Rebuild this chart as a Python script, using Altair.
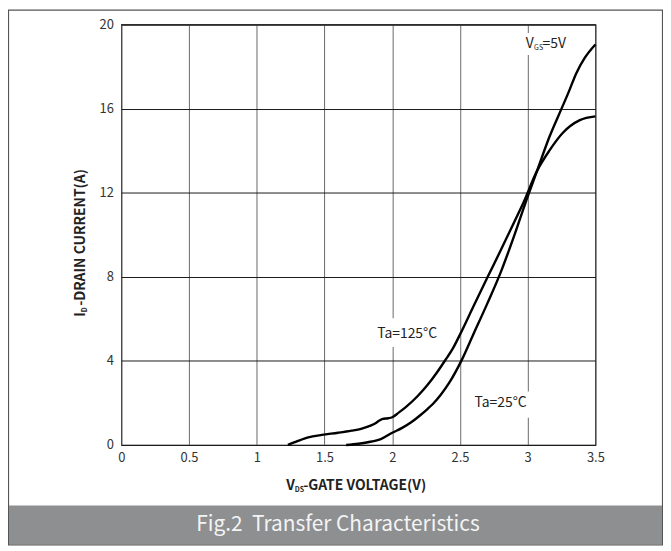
import altair as alt
import pandas as pd

# ---------------- data ----------------
v_125 = [1.23, 1.30, 1.38, 1.48, 1.60, 1.70, 1.77, 1.84, 1.88, 1.905, 1.93, 1.97, 2.00,
         2.05, 2.10, 2.19, 2.26, 2.33, 2.39, 2.45, 2.50, 2.60, 2.705, 2.80, 2.90, 2.97,
         3.07, 3.16, 3.26, 3.385, 3.50]
i_125 = [0.0, 0.18, 0.36, 0.48, 0.58, 0.68, 0.77, 0.92, 1.05, 1.16, 1.24, 1.27, 1.32,
         1.55, 1.80, 2.34, 2.85, 3.45, 4.02, 4.62, 5.25, 6.60, 8.00, 9.25, 10.60, 11.55,
         13.05, 14.00, 14.85, 15.45, 15.63]

v_25 = [1.66, 1.75, 1.82, 1.92, 2.00, 2.07, 2.14, 2.20, 2.26, 2.30, 2.36, 2.42, 2.51,
        2.60, 2.70, 2.80, 2.90, 2.98, 3.07, 3.16, 3.25, 3.30, 3.36, 3.42, 3.50]
i_25 = [0.0, 0.06, 0.13, 0.29, 0.58, 0.80, 1.08, 1.38, 1.71, 1.95, 2.40, 2.95, 4.00,
        5.28, 6.70, 8.20, 9.95, 11.45, 13.05, 14.65, 16.00, 16.75, 17.70, 18.40, 19.05]

x_ticks = [0, 0.5, 1, 1.5, 2, 2.5, 3, 3.5]
y_ticks = [0, 4, 8, 12, 16, 20]

# annotations (text and the white boxes behind them)
ann_text = ["Ta=125°C", "Ta=25°C"]
ann_v = [2.11, 2.80]
ann_i = [5.27, 2.00]

box_v1 = [1.86, 2.58, 2.96]
box_v2 = [2.36, 3.02, 3.31]
box_i1 = [4.66, 1.29, 18.55]
box_i2 = [6.03, 2.54, 19.60]

vgs_v = [2.985]
vgs_i = [19.05]

x_title_main = "-GATE VOLTAGE(V)"
y_title_main = "-DRAIN CURRENT(A)"
fig_title = "Fig.2\u00a0 Transfer Characteristics"

FONT = "Noto Sans CJK SC"
W, H = 477, 423

curves = pd.DataFrame({
    "V": v_125 + v_25,
    "I": i_125 + i_25,
    "T": ["125"] * len(v_125) + ["25"] * len(v_25),
})
ann = pd.DataFrame({"t": ann_text, "V": ann_v, "I": ann_i})
boxes = pd.DataFrame({"v1": box_v1, "v2": box_v2, "i1": box_i1, "i2": box_i2})
vgs = pd.DataFrame({"V": vgs_v, "I": vgs_i})

xs = alt.Scale(domain=[0, 3.5], nice=False, zero=False)
ys = alt.Scale(domain=[0, 20], nice=False)

x_axis = alt.Axis(values=x_ticks, format="~g", grid=True, gridColor="#6a6a6a",
                  gridWidth=1, domain=False, ticks=False, labelFont=FONT,
                  labelFontSize=13, labelColor="#333333", labelPadding=7,
                  labelFlush=False, title=None)
y_axis = alt.Axis(values=y_ticks, format="~g", grid=True, gridColor="#1a1a1a",
                  gridWidth=1, domain=False, ticks=False, labelFont=FONT,
                  labelFontSize=13, labelColor="#333333", labelPadding=8,
                  title=None)

# frame decorations (outer border and grey caption bar)
border = alt.Chart(pd.DataFrame({"a": [0]})).mark_rect(
    fill="transparent", stroke="#555555", strokeWidth=1.2
).encode(x=alt.value(-113.5), x2=alt.value(544.5), y=alt.value(-14.5), y2=alt.value(523.5))

bar = alt.Chart(pd.DataFrame({"a": [0]})).mark_rect(fill="#8d8f91").encode(
    x=alt.value(-113), x2=alt.value(544), y=alt.value(484), y2=alt.value(523)
)

caption = alt.Chart(pd.DataFrame({"t": [fig_title]})).mark_text(
    font=FONT, fontSize=21, color="#f4f4f4", align="center", baseline="middle"
).encode(text="t:N", x=alt.value(218), y=alt.value(504))

# axes carrier + boxes
box_layer = alt.Chart(boxes).mark_rect(fill="white").encode(
    x=alt.X("v1:Q", scale=xs, axis=x_axis),
    x2="v2:Q",
    y=alt.Y("i1:Q", scale=ys, axis=y_axis),
    y2="i2:Q",
)

lines = alt.Chart(curves).mark_line(
    color="black", strokeWidth=2.4, interpolate="monotone"
).encode(
    x=alt.X("V:Q", scale=xs),
    y=alt.Y("I:Q", scale=ys),
    detail="T:N",
)

ann_layer = alt.Chart(ann).mark_text(
    font=FONT, fontSize=14, color="#222222", align="center", baseline="middle"
).encode(x=alt.X("V:Q", scale=xs), y=alt.Y("I:Q", scale=ys), text="t:N")

vgs_v_txt = alt.Chart(vgs.assign(t="V")).mark_text(
    font=FONT, fontSize=14, color="#222222", align="left", baseline="middle"
).encode(x=alt.X("V:Q", scale=xs), y=alt.Y("I:Q", scale=ys), text="t:N")
vgs_sub = alt.Chart(vgs.assign(t="GS")).mark_text(
    font=FONT, fontSize=7, color="#222222", align="left", baseline="middle", dx=8.5, dy=4
).encode(x=alt.X("V:Q", scale=xs), y=alt.Y("I:Q", scale=ys), text="t:N")
vgs_rest = alt.Chart(vgs.assign(t="=5V")).mark_text(
    font=FONT, fontSize=14, color="#222222", align="left", baseline="middle", dx=17
).encode(x=alt.X("V:Q", scale=xs), y=alt.Y("I:Q", scale=ys), text="t:N")

# axis titles with subscripts
def txt(t, x, y, size, angle=0, weight="bold"):
    return alt.Chart(pd.DataFrame({"t": [t]})).mark_text(
        font=FONT, fontSize=size, fontWeight=weight, color="#222222",
        align="left", baseline="middle", angle=angle
    ).encode(text="t:N", x=alt.value(x), y=alt.value(y))

xt1 = txt("V", 166, 464, 14)
xt2 = txt("DS", 174.5, 468, 7)
xt3 = txt(x_title_main, 183, 464, 14)

yt1 = txt("I", -41, 294, 14, angle=270)
yt2 = txt("D", -37, 289.5, 7, angle=270)
yt3 = txt(y_title_main, -41, 283, 14, angle=270)

chart = alt.layer(
    border, bar, caption, box_layer, lines, ann_layer,
    vgs_v_txt, vgs_sub, vgs_rest, xt1, xt2, xt3, yt1, yt2, yt3
).properties(
    width=W, height=H,
    padding={"left": 114, "top": 15, "right": 68, "bottom": 101},
    autosize=alt.AutoSizeParams(type="none"),
    background="white",
).configure_view(stroke="black", strokeWidth=1.2)

chart.save("out.html", embed_options={"renderer": "svg", "actions": False})
